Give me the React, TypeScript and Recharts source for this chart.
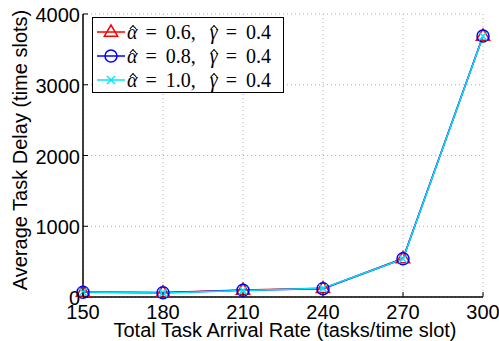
import React from 'react';
import { LineChart, Line, XAxis, YAxis, CartesianGrid } from 'recharts';

const rates = [150, 180, 210, 240, 270, 300];
const delayA06 = [70, 62, 98, 122, 545, 3690];
const delayA08 = [68, 60, 95, 118, 540, 3688];
const delayA10 = [72, 58, 92, 125, 538, 3686];
const xTicks = [150, 180, 210, 240, 270, 300];
const yTicks = [0, 1000, 2000, 3000, 4000];

const data = rates.map((r, i) => ({ rate: r, a06: delayA06[i], a08: delayA08[i], a10: delayA10[i] }));

const series = [
  { key: 'a06', color: '#ff0000', marker: 'tri', alpha: '0.6', gamma: '0.4' },
  { key: 'a08', color: '#0000ff', marker: 'circ', alpha: '0.8', gamma: '0.4' },
  { key: 'a10', color: '#00e5ff', marker: 'x', alpha: '1.0', gamma: '0.4' },
];

const FONT = '"Liberation Sans", Arial, Helvetica, sans-serif';
const SERIF = '"Liberation Serif", "DejaVu Serif", serif';

function Marker({ type, cx, cy, color }: any) {
  if (cx == null || cy == null) return null;
  if (type === 'tri') {
    const r = 7;
    return <polygon points={`${cx},${cy - r} ${cx - r * 0.95},${cy + r * 0.6} ${cx + r * 0.95},${cy + r * 0.6}`} fill="none" stroke={color} strokeWidth={1.5} />;
  }
  if (type === 'circ') {
    return <circle cx={cx} cy={cy} r={6} fill="none" stroke={color} strokeWidth={1.5} />;
  }
  const s = 4;
  return (
    <g stroke={color} strokeWidth={1.5}>
      <line x1={cx - s} y1={cy - s} x2={cx + s} y2={cy + s} />
      <line x1={cx - s} y1={cy + s} x2={cx + s} y2={cy - s} />
    </g>
  );
}

const XTick = (props: any) => {
  const { x, y, payload } = props;
  return (
    <g>
      <line x1={x} y1={y} x2={x} y2={y - 5} stroke="#000" strokeWidth={1} />
      <text x={x} y={y + 22} textAnchor="middle" fontFamily={FONT} fontSize={20} fill="#000">{payload.value}</text>
    </g>
  );
};
const XTickTop = (props: any) => {
  const { x, y } = props;
  return <line x1={x} y1={y} x2={x} y2={y + 5} stroke="#000" strokeWidth={1} />;
};
const YTick = (props: any) => {
  const { x, y, payload } = props;
  return (
    <g>
      <line x1={x} y1={y} x2={x + 5} y2={y} stroke="#000" strokeWidth={1} />
      <text x={x - 3} y={y + 8} textAnchor="end" fontFamily={FONT} fontSize={20} fill="#000">{payload.value}</text>
    </g>
  );
};
const YTickRight = (props: any) => {
  const { x, y } = props;
  return <line x1={x} y1={y} x2={x - 5} y2={y} stroke="#000" strokeWidth={1} />;
};

function Hat({ ch }: { ch: string }) {
  return (
    <span style={{ position: 'relative', display: 'inline-block' }}>
      <i>{ch}</i>
      <span style={{ position: 'absolute', left: '55%', top: 6, width: 4, height: 4, borderTop: '1.2px solid #000', borderLeft: '1.2px solid #000', transform: 'translateX(-50%) rotate(45deg)' }} />
    </span>
  );
}

function LegendBox() {
  const eq = { margin: '0 9px 0 8px' };
  return (
    <div style={{ position: 'absolute', left: 92, top: 17, width: 192, height: 76, background: '#fff', border: '1.5px solid #000', boxSizing: 'border-box' }}>
      {series.map((s, i) => (
        <div key={s.key} style={{ position: 'absolute', left: 3, top: 2 + i * 24, height: 24, display: 'flex', alignItems: 'center', whiteSpace: 'nowrap' }}>
          <svg width={30} height={20} style={{ display: 'block' }}>
            <line x1={1} y1={10} x2={29} y2={10} stroke={s.color} strokeWidth={1.5} />
            <Marker type={s.marker} cx={15} cy={10} color={s.color} />
          </svg>
          <span style={{ fontFamily: SERIF, fontSize: 20, marginLeft: 1, color: '#000', lineHeight: '24px' }}>
            <Hat ch="α" /><span style={eq}>=</span>{s.alpha},<span style={{ marginLeft: 14 }} /><Hat ch="γ" /><span style={eq}>=</span>{s.gamma}
          </span>
        </div>
      ))}
    </div>
  );
}

export default function App() {
  return (
    <div style={{ position: 'absolute', left: 0, top: 0, width: 499, height: 341, background: '#fff' }}>
      <LineChart width={499} height={341} data={data} margin={{ top: 14, right: 16, bottom: 0, left: 0 }}>
        <CartesianGrid stroke="#b0b0b0" strokeDasharray="1 3" horizontal={true} vertical={true} />
        <XAxis dataKey="rate" type="number" domain={[150, 300]} ticks={xTicks} height={44} tickSize={0} tickMargin={0} tick={<XTick />} axisLine={{ stroke: '#000', strokeWidth: 1.5 }} />
        <XAxis xAxisId="top" orientation="top" dataKey="rate" type="number" domain={[150, 300]} ticks={xTicks} height={0} tickSize={0} tick={<XTickTop />} axisLine={{ stroke: '#000', strokeWidth: 1.5 }} />
        <YAxis type="number" domain={[0, 4000]} ticks={yTicks} width={83} tickSize={0} tickMargin={0} tick={<YTick />} axisLine={{ stroke: '#000', strokeWidth: 1.5 }}
          label={() => (
            <text x={27} y={150} transform="rotate(-90 27 150)" textAnchor="middle" fontFamily={FONT} fontSize={20} fill="#000">Average Task Delay (time slots)</text>
          )} />
        <YAxis yAxisId="right" orientation="right" type="number" domain={[0, 4000]} ticks={yTicks} width={0} tickSize={0} tick={<YTickRight />} axisLine={{ stroke: '#000', strokeWidth: 1.5 }} />
        {series.map((s) => (
          <Line key={s.key} dataKey={s.key} stroke={s.color} strokeWidth={1.5} isAnimationActive={false}
            dot={(p: any) => <Marker key={`${s.key}-${p.index}`} type={s.marker} cx={p.cx} cy={p.cy} color={s.color} />} />
        ))}
      </LineChart>
      <div style={{ position: 'absolute', left: 85, top: 318, width: 400, textAlign: 'center', fontFamily: FONT, fontSize: 20, lineHeight: '24px', color: '#000' }}>
        Total Task Arrival Rate (tasks/time slot)
      </div>
      <LegendBox />
    </div>
  );
}
